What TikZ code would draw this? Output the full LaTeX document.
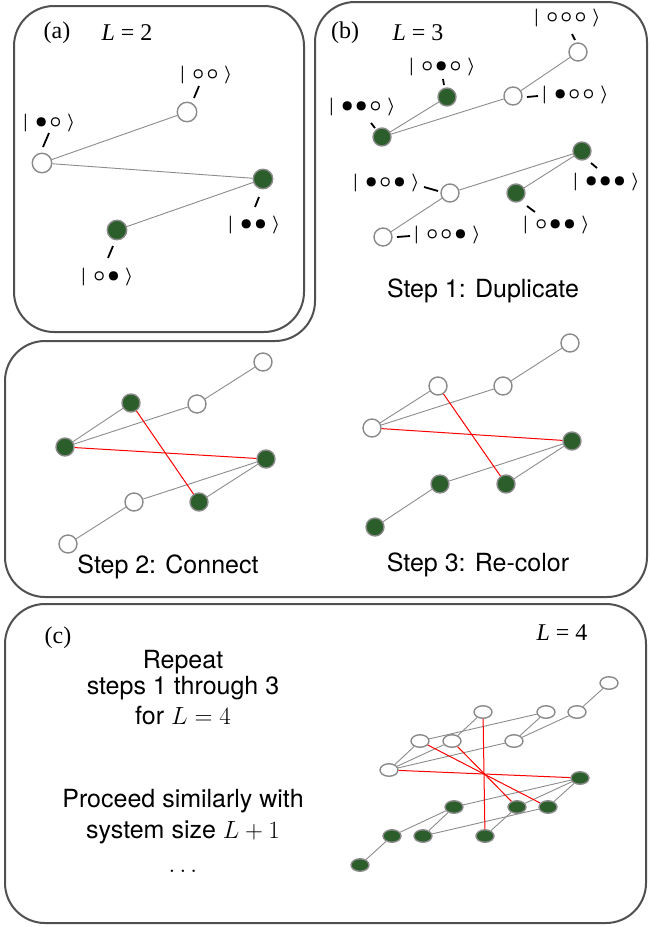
\documentclass[tikz,border=0pt]{standalone}
\usepackage[no-math]{fontspec}
\usepackage{graphicx}
\setmainfont{Liberation Serif}
\setsansfont{TeX Gyre Heros}
\usetikzlibrary{shapes.geometric}
\definecolor{pgray}{HTML}{505050}
\definecolor{ngray}{HTML}{8A8A8A}
\definecolor{egray}{HTML}{8C8C8C}
\definecolor{dgreen}{HTML}{2B5E2A}
\newcommand{\Wt}{\mbox{\scalebox{1.15}{$\circ$}}}
\newcommand{\Bk}{\mbox{\scalebox{1.15}{$\bullet$}}}
\newcommand{\gp}{\mkern2mu}
\newcommand{\myket}[1]{\scalebox{1.8}{\boldmath$\mathord{|}\mkern6mu#1\mkern5mu\rangle$}}
\tikzset{
  pline/.style={draw=pgray, line width=2pt, rounded corners=40pt},
  wn/.style={circle, draw=ngray, line width=1.4pt, fill=white, minimum size=18pt, inner sep=0pt},
  gn/.style={wn, fill=dgreen},
  wa/.style={wn, minimum size=19.5pt},
  ga/.style={wa, fill=dgreen},
  we/.style={ellipse, draw=ngray, line width=1.4pt, fill=white, minimum width=18pt, minimum height=12.5pt, inner sep=0pt},
  ge/.style={we, fill=dgreen},
  ed/.style={draw=egray, line width=0.9pt},
  rl/.style={draw=red, line width=1pt},
  ket/.style={font=\fontsize{10}{12}\selectfont, inner sep=0pt},
  tk/.style={draw=black, line width=1.8pt},
  stepfont/.style={font=\sffamily\fontsize{25}{28}\selectfont, inner sep=0pt},
  lab/.style={font=\fontsize{24}{26}\selectfont, inner sep=0pt},
}
\begin{document}
\begin{tikzpicture}[x=1pt, y=-1pt]
\useasboundingbox (0,0) rectangle (649,927);
% ---------- panels ----------
\draw[pline] (315,341) -- (315,2) -- (647,2) -- (647,597) -- (5,597) -- (5,341) -- cycle;
\draw[pline, fill=white] (14,6) rectangle (304,332);
\draw[pline] (5,604) rectangle (646,923);
% ---------- panel (a) ----------
\node[lab] (la) at (57,33) {(a)};
\node[lab] (La) at (127,33) {\textit{L} = 2};
\node[wa] (a1) at (187,112) {};
\node[wa] (a2) at (42,163) {};
\node[ga] (a3) at (263,179) {};
\node[ga] (a4) at (117,230) {};
\draw[ed] (a2) -- (a1);
\draw[ed] (a2) -- (a3);
\draw[ed] (a3) -- (a4);
\node[ket] (k1) at (206,75) {\myket{\Wt\gp\Wt}};
\node[ket] (k2) at (49,123) {\myket{\Bk\gp\Wt}};
\node[ket] (k3) at (254,225) {\myket{\Bk\gp\Bk}};
\node[ket] (k4) at (107,277) {\myket{\Wt\gp\Bk}};
\draw[tk] (199,86) -- (194,98);
\draw[tk] (49,133) -- (43,147);
\draw[tk] (259,197) -- (255,207);
\draw[tk] (113,246) -- (108,258);
% ---------- panel (b) ----------
\node[lab] (lb) at (345,33) {(b)};
\node[lab] (Lb) at (418,33) {\textit{L} = 3};
\node[gn] (b1) at (382,137) {};
\node[gn] (b2) at (447,97) {};
\node[wn] (b3) at (513,96) {};
\node[wn] (b4) at (578,52) {};
\node[gn] (b5) at (582,151) {};
\node[wn] (b6) at (450,193) {};
\node[gn] (b7) at (516,193) {};
\node[wn] (b8) at (383,237) {};
\draw[ed] (b1) -- (b2);
\draw[ed] (b1) -- (b3);
\draw[ed] (b3) -- (b4);
\draw[ed] (b5) -- (b6);
\draw[ed] (b5) -- (b7);
\draw[ed] (b6) -- (b8);
\node[ket] (kb1) at (567,18) {\myket{\Wt\gp\Wt\gp\Wt}};
\node[ket] (kb2) at (442,67) {\myket{\Wt\gp\Bk\gp\Wt}};
\node[ket] (kb3) at (362,107) {\myket{\Bk\gp\Bk\gp\Wt}};
\node[ket] (kb4) at (575,95) {\myket{\Bk\gp\Wt\gp\Wt}};
\node[ket] (kb5) at (386,183) {\myket{\Bk\gp\Wt\gp\Bk}};
\node[ket] (kb6) at (606,182) {\myket{\Bk\gp\Bk\gp\Bk}};
\node[ket] (kb7) at (556,225) {\myket{\Wt\gp\Bk\gp\Bk}};
\node[ket] (kb8) at (447,235) {\myket{\Wt\gp\Wt\gp\Bk}};
\draw[tk] (572,34) -- (575,40);
\draw[tk] (443,79) -- (444,85);
\draw[tk] (371,123) -- (375,128);
\draw[tk] (527,97) -- (538,96);
\draw[tk] (424,187) -- (438,191);
\draw[tk] (591,163) -- (597,168);
\draw[tk] (527,206) -- (535,212);
\draw[tk] (397,237) -- (410,236);
\node[stepfont] (st1) at (483,291) {Step 1: Duplicate};
% ---------- step 2 ----------
\node[wn] (s2a) at (263,362) {};
\node[gn] (s2b) at (131,403) {};
\node[wn] (s2c) at (197,404) {};
\node[gn] (s2d) at (65,447) {};
\node[gn] (s2e) at (266,459) {};
\node[wn] (s2f) at (134,502) {};
\node[gn] (s2g) at (199,502) {};
\node[wn] (s2h) at (68,544) {};
\draw[ed] (s2a) -- (s2c);
\draw[ed] (s2c) -- (s2d);
\draw[ed] (s2b) -- (s2d);
\draw[ed] (s2e) -- (s2f);
\draw[ed] (s2e) -- (s2g);
\draw[ed] (s2f) -- (s2h);
\draw[rl] (s2d) -- (s2e);
\draw[rl] (s2b) -- (s2g);
\node[stepfont] (st2) at (168,567) {Step 2: Connect};
% ---------- step 3 ----------
\node[wn] (s3a) at (570,343) {};
\node[wn] (s3b) at (438,386) {};
\node[wn] (s3c) at (503,386) {};
\node[wn] (s3d) at (372,428) {};
\node[gn] (s3e) at (572,441) {};
\node[gn] (s3f) at (440,484) {};
\node[gn] (s3g) at (506,484) {};
\node[gn] (s3h) at (375,527) {};
\draw[ed] (s3a) -- (s3c);
\draw[ed] (s3c) -- (s3d);
\draw[ed] (s3b) -- (s3d);
\draw[ed] (s3e) -- (s3f);
\draw[ed] (s3e) -- (s3g);
\draw[ed] (s3f) -- (s3h);
\draw[rl] (s3d) -- (s3e);
\draw[rl] (s3b) -- (s3g);
\node[stepfont] (st3) at (478,565) {Step 3: Re-color};
% ---------- panel (c) ----------
\node[lab] (lc) at (58,638) {(c)};
\node[lab] (Lc) at (562,633) {\textit{L} = 4};
\node[stepfont, anchor=base] (t1) at (183,668) {Repeat};
\node[stepfont, anchor=base] (t2) at (183,694) {steps 1 through 3};
\node[stepfont, anchor=base] (t3) at (183,724) {for $L=4$};
\node[stepfont, anchor=base] (t4) at (183,807) {Proceed similarly with};
\node[stepfont, anchor=base] (t5) at (183,838) {system size $L+1$};
\node[stepfont, anchor=base] (t6) at (183,872) {$\dots$};
\node[we] (w1) at (609,683) {};
\node[we] (w2) at (483,712) {};
\node[we] (w3) at (546,712) {};
\node[we] (w4) at (577,712) {};
\node[we] (w5) at (420,741) {};
\node[we] (w6) at (452,741) {};
\node[we] (w7) at (514,741) {};
\node[we] (w8) at (389,770) {};
\node[ge] (g1) at (580,778) {};
\node[ge] (g2) at (454,807) {};
\node[ge] (g3) at (517,807) {};
\node[ge] (g4) at (548,807) {};
\node[ge] (g5) at (392,836) {};
\node[ge] (g6) at (423,836) {};
\node[ge] (g7) at (485,836) {};
\node[ge] (g8) at (360,865) {};
\draw[ed] (w1) -- (w4);
\draw[ed] (w4) -- (w7);
\draw[ed] (w3) -- (w7);
\draw[ed] (w3) -- (w5);
\draw[ed] (w2) -- (w6);
\draw[ed] (w8) -- (w5);
\draw[ed] (w8) -- (w6);
\draw[ed] (w8) -- (w7);
\draw[ed] (g1) -- (g2);
\draw[ed] (g1) -- (g3);
\draw[ed] (g1) -- (g4);
\draw[ed] (g4) -- (g6);
\draw[ed] (g3) -- (g7);
\draw[ed] (g2) -- (g5);
\draw[ed] (g2) -- (g6);
\draw[ed] (g5) -- (g8);
\draw[rl] (w8) -- (g1);
\draw[rl] (w2) -- (g7);
\draw[rl] (w5) -- (g4);
\draw[rl] (w6) -- (g3);
\end{tikzpicture}
\end{document}
